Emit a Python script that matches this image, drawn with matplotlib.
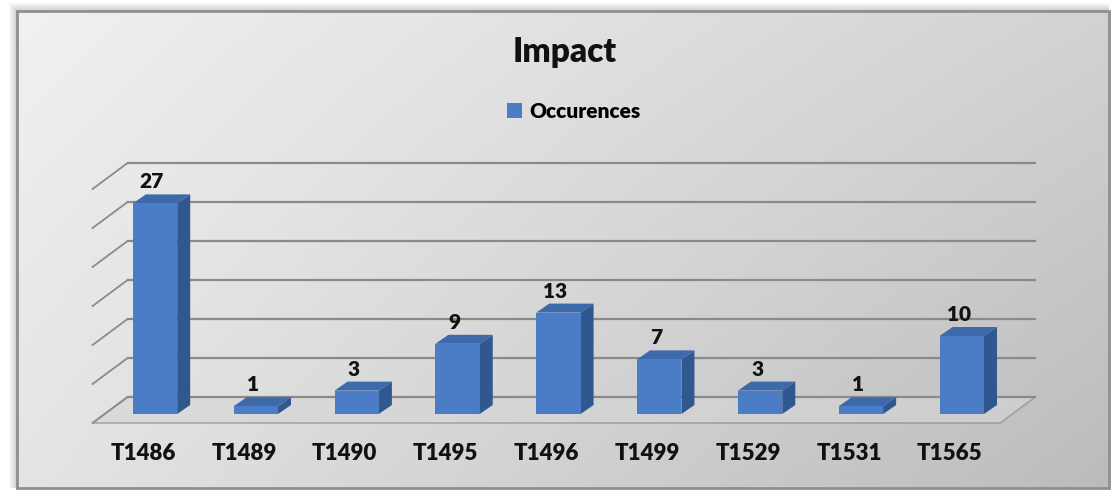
import numpy as np
import matplotlib
matplotlib.use("Agg")
import matplotlib.pyplot as plt
from matplotlib.patches import Polygon, Rectangle
from matplotlib.transforms import IdentityTransform

# ---- data ----
categories = ["T1486", "T1489", "T1490", "T1495", "T1496", "T1499", "T1529", "T1531", "T1565"]
occurences = [27, 1, 3, 9, 13, 7, 3, 1, 10]
gridline_values = [0, 5, 10, 15, 20, 25, 30]
title_text = "Impact"
series_name = "Occurences"

# ---- style ----
FONT = "Lato"
FRONT = "#4a7dc5"
SIDE = "#30588f"
TOP = "#3d6aab"
GRID = "#8a8a8a"

W, H, DPI = 1112, 493, 100
fig = plt.figure(figsize=(W / DPI, H / DPI), dpi=DPI, facecolor="white")

# decoration layer in pixel units (panel, shadow, border)
deco = fig.add_axes([0, 0, 1, 1])
deco.set_xlim(0, W)
deco.set_ylim(H, 0)
deco.axis("off")

L, T, R, B = 17, 11, 1109, 488
for k in range(8, 0, -1):
    deco.add_patch(Rectangle((L - k, T - k), (R - L) + k, (B - T) + k,
                             facecolor="#000000", alpha=0.025, lw=0, zorder=0))
gx = np.linspace(0, 1, 300)
gy = np.linspace(0, 1, 150)
GX, GY = np.meshgrid(gx, gy)
shade = 0.945 - 0.12 * GX - 0.05 * GY - 0.04 * GX * GY
deco.imshow(np.dstack([shade] * 3), extent=(L, R, B, T), aspect="auto",
            interpolation="bilinear", zorder=1)
deco.add_patch(Rectangle((L, T), R - L, B - T, facecolor="none",
                         edgecolor="#8f8f8f", lw=2.0, zorder=2))

# chart axes: category index on x, occurrences on y
px_per_cat = 100.85
px_per_unit = 7.8
x0_px, y0_px = 155.0, H - 414.0
xlim = (-1.5, 9.0)
ylim = (-10.0, 50.0)
left = x0_px + xlim[0] * px_per_cat
bottom = y0_px + ylim[0] * px_per_unit
width = (xlim[1] - xlim[0]) * px_per_cat
height = (ylim[1] - ylim[0]) * px_per_unit
ax = fig.add_axes([left / W, bottom / H, width / W, height / H])
ax.set_xlim(*xlim)
ax.set_ylim(*ylim)
ax.axis("off")
ax.patch.set_alpha(0)

# depth offsets (pixels) relative to the bar front plane
FLOOR_FRONT = np.array([-12.0, -9.0])
WALL = np.array([23.0, 17.0])
BAR_DEPTH = np.array([13.0, 9.0])


def disp(x, v, off=(0.0, 0.0)):
    p = ax.transData.transform((x, v))
    return (p[0] + off[0], p[1] + off[1])


def poly(points, **kw):
    ax.add_patch(Polygon(points, closed=True, transform=IdentityTransform(),
                         clip_on=False, **kw))


x_lo, x_hi = -0.5, 8.5

# floor
poly([disp(x_lo, 0, FLOOR_FRONT), disp(x_hi, 0, FLOOR_FRONT),
      disp(x_hi, 0, WALL), disp(x_lo, 0, WALL)],
     facecolor="#d6d6d6", edgecolor=GRID, lw=1.3, alpha=0.6, zorder=2)

# back-wall gridlines and the left-side diagonals
for v in gridline_values:
    a = disp(x_lo, v, WALL)
    b = disp(x_hi, v, WALL)
    c = disp(x_lo, v, FLOOR_FRONT)
    ax.plot([a[0], b[0]], [a[1], b[1]], color=GRID, lw=1.6,
            transform=IdentityTransform(), clip_on=False, zorder=2)
    ax.plot([c[0], a[0]], [c[1], a[1]], color=GRID, lw=1.3,
            transform=IdentityTransform(), clip_on=False, zorder=2)

# 3D bars: side and top faces, then the front face
bw = 0.44
x = np.arange(len(categories))
for xi, v in zip(x, occurences):
    xl, xr = xi - bw / 2, xi + bw / 2
    poly([disp(xr, 0), disp(xr, 0, BAR_DEPTH), disp(xr, v, BAR_DEPTH), disp(xr, v)],
         facecolor=SIDE, edgecolor="none", zorder=3)
    poly([disp(xl, v), disp(xr, v), disp(xr, v, BAR_DEPTH), disp(xl, v, BAR_DEPTH)],
         facecolor=TOP, edgecolor="none", zorder=3)
ax.bar(x, occurences, width=bw, color=FRONT, zorder=4, clip_on=False,
       label=series_name)

# value labels
for xi, v in zip(x, occurences):
    ax.annotate(str(v), (xi, v), xytext=(-3, 15), textcoords="offset pixels",
                ha="center", va="baseline", fontsize=15, fontweight="heavy",
                family=FONT, color="#111111", zorder=5)

# category labels along the floor front edge
for xi, name in zip(x, categories):
    ax.annotate(name, (xi, 0), xytext=(-12, -46), textcoords="offset pixels",
                ha="center", va="baseline", fontsize=16, fontweight="heavy",
                family=FONT, color="#111111", zorder=5)

# title and legend
fig.text(565 / W, 1 - 52 / H, title_text, ha="center", va="center",
         fontsize=24, fontweight="heavy", family=FONT, color="#111111")
leg = ax.legend(loc="center", bbox_to_anchor=(574 / W, 1 - 111 / H),
                bbox_transform=fig.transFigure, frameon=False,
                prop={"family": FONT, "weight": "heavy", "size": 15},
                handlelength=0.7, handleheight=0.7, handletextpad=0.4)

fig.savefig("out.png", dpi=DPI, facecolor="white")
